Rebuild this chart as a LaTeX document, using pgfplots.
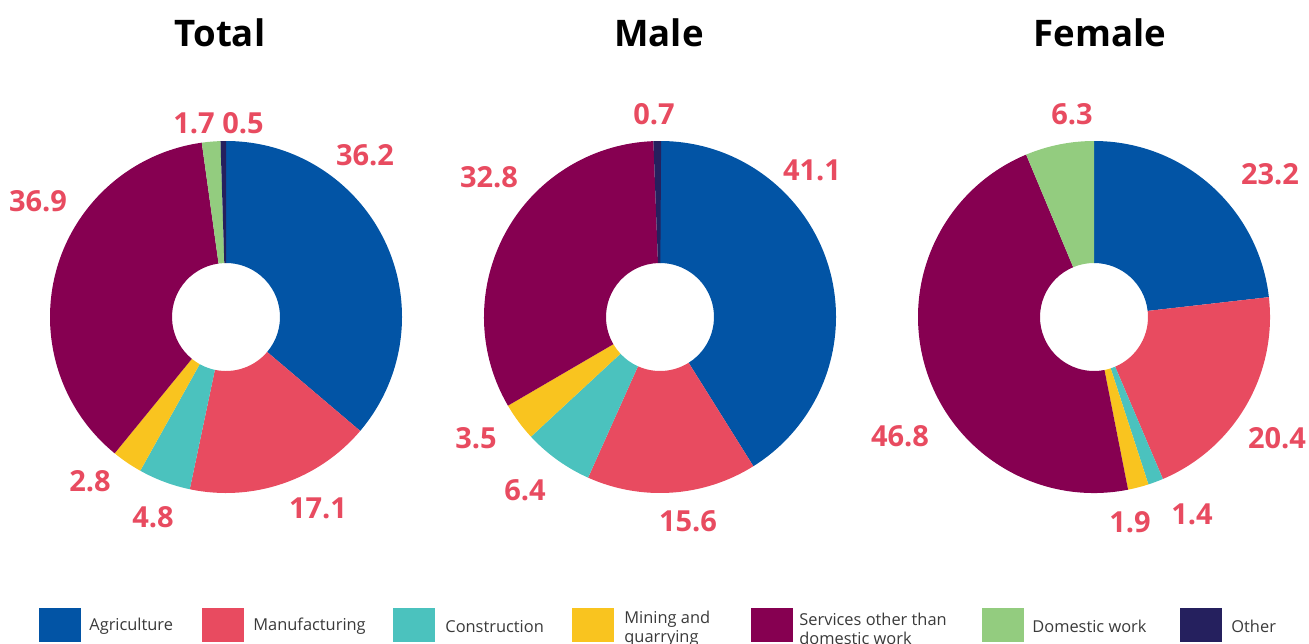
\documentclass[border=0pt]{standalone}
\usepackage{fontspec}
\setmainfont{Open Sans}
\usepackage{pgfplots}
\pgfplotsset{compat=1.18}
\definecolor{agri}{HTML}{0254A5}
\definecolor{manu}{HTML}{E84B60}
\definecolor{cons}{HTML}{4BC2BE}
\definecolor{mine}{HTML}{F9C41F}
\definecolor{serv}{HTML}{860051}
\definecolor{dome}{HTML}{93CC7F}
\definecolor{othr}{HTML}{25205E}
\definecolor{labred}{HTML}{E84B60}
\definecolor{legtext}{HTML}{3A3A3A}

% slices: value/colour, clockwise from 12 o'clock; outer radius 176, inner 54 (axis units)
\newcommand\donutslices[1]{%
  \gdef\cum{0}%
  \foreach \v/\c in {#1}{%
    \pgfmathsetmacro\a{90-3.6*\cum}%
    \pgfmathsetmacro\b{90-3.6*(\cum+\v)}%
    \pgfmathsetmacro\xa{176*cos(\a)}\pgfmathsetmacro\ya{176*sin(\a)}%
    \pgfmathsetmacro\xb{54*cos(\b)}\pgfmathsetmacro\yb{54*sin(\b)}%
    \edef\tmp{\noexpand\fill[\c] (axis cs:\xa,\ya) arc[start angle=\a,end angle=\b,radius=88pt] -- (axis cs:\xb,\yb) arc[start angle=\b,end angle=\a,radius=27pt] -- cycle;}%
    \tmp
    \pgfmathsetmacro\n{\cum+\v}\xdef\cum{\n}%
  }}

\pgfplotsset{donut/.style={hide axis, scale only axis, width=176pt, height=176pt,
  xmin=-176, xmax=176, ymin=-176, ymax=176, clip=false, anchor=center,
  title style={anchor=center, font=\bfseries\fontsize{18.3}{21}\selectfont},
  every node near coord/.style={anchor=center, font=\bfseries\fontsize{14.5}{16}\selectfont, text=labred}}}
\pgfplotsset{lbls/.style={draw=none, mark=none, nodes near coords, point meta=explicit symbolic}}

\begin{document}
\begin{tikzpicture}[x=1pt,y=1pt]
\path[use as bounding box] (0pt,0pt) rectangle (654.5pt,-321.5pt);

\begin{axis}[donut, at={(113pt,-158.5pt)}, title={Total}, title style={at={(0.483,1.272)}}]
\donutslices{36.2/agri, 17.1/manu, 4.8/cons, 2.8/mine, 36.9/serv, 1.7/dome, 0.5/othr}
\addplot[lbls] table[meta=l] {
x y l
139 162 36.2
92 -191 17.1
-73 -200 4.8
-136 -164 2.8
-188 116 36.9
-32 194 1.7
17 194 0.5
};
\end{axis}

\begin{axis}[donut, at={(330pt,-158.5pt)}, title={Male}, title style={at={(0.497,1.272)}}]
\donutslices{41.1/agri, 15.6/manu, 6.4/cons, 3.5/mine, 32.8/serv, 0.7/othr}
\addplot[lbls] table[meta=l] {
x y l
152 147 41.1
28 -204 15.6
-135 -173 6.4
-184 -121 3.5
-171 140 32.8
-6 203 0.7
};
\end{axis}

\begin{axis}[donut, at={(547pt,-158.5pt)}, title={Female}, title style={at={(0.517,1.272)}}]
\donutslices{23.2/agri, 20.4/manu, 1.4/cons, 1.9/mine, 46.8/serv, 6.3/dome}
\addplot[lbls] table[meta=l] {
x y l
176 143 23.2
183 -121 20.4
98 -197 1.4
36 -205 1.9
-194 -119 46.8
-22 203 6.3
};
\end{axis}

% legend
\tikzset{legt/.style={anchor=west, inner sep=0pt, text=legtext, align=left,
  font=\fontsize{8.2}{9.5}\selectfont}}
\fill[agri] (19.5pt,-304pt) rectangle ++(21pt,-17pt);
\node[legt] at (44.5pt,-313.3pt) {Agriculture};
\fill[manu] (101pt,-304pt) rectangle ++(21pt,-17pt);
\node[legt] at (126.5pt,-313.3pt) {Manufacturing};
\fill[cons] (196.5pt,-304pt) rectangle ++(21pt,-17pt);
\node[legt] at (222.5pt,-313.3pt) {Construction};
\fill[mine] (286pt,-304pt) rectangle ++(21pt,-17pt);
\node[legt] at (312pt,-314.2pt) {Mining and\\quarrying};
\fill[serv] (375.5pt,-304pt) rectangle ++(21pt,-17pt);
\node[legt] at (399.5pt,-314.2pt) {Services other than\\domestic work};
\fill[dome] (491pt,-304pt) rectangle ++(21pt,-17pt);
\node[legt] at (516pt,-313.3pt) {Domestic work};
\fill[othr] (590pt,-304pt) rectangle ++(21pt,-17pt);
\node[legt] at (615.5pt,-313.3pt) {Other};
\end{tikzpicture}
\end{document}
